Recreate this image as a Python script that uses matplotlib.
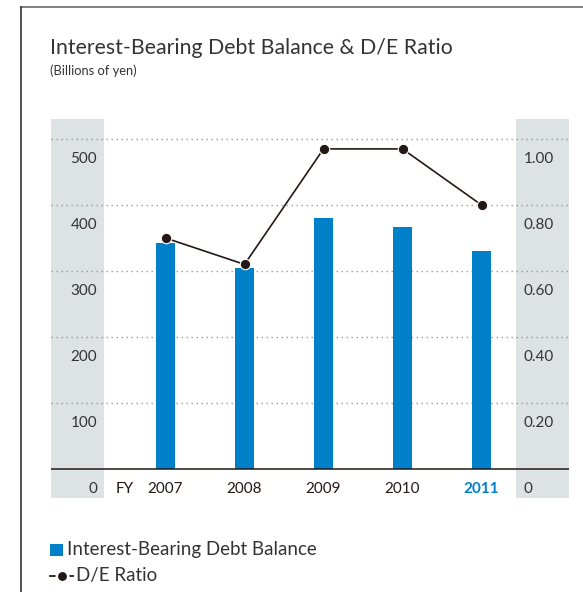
import matplotlib
matplotlib.use("Agg")
import matplotlib.pyplot as plt
from matplotlib.lines import Line2D
from matplotlib.patches import Rectangle

# fiscal years, debt balance (billions of yen) and D/E ratio
YEARS = ["2007", "2008", "2009", "2010", "2011"]
DEBT = [342, 304, 381, 367, 330]
DE_RATIO = [0.70, 0.62, 0.97, 0.97, 0.80]
LEFT_TICKS = [0, 100, 200, 300, 400, 500]
RIGHT_TICKS = ["0", "0.20", "0.40", "0.60", "0.80", "1.00"]

BLUE = "#0080c8"
BAND = "#dde2e4"
INK = "#333333"
LINE = "#231815"

W, H = 583, 592
plt.rcParams.update({"font.family": ["Lato", "DejaVu Sans"]})
fig = plt.figure(figsize=(W / 100, H / 100), dpi=100, facecolor="white")

# page frame: rule along the top and left edge
fig.add_artist(Line2D([21 / W, 1], [1 - 7 / H, 1 - 7 / H], color="#6d6a68", lw=1.2))
fig.add_artist(Line2D([21 / W, 21 / W], [0, 1 - 7 / H], color="#333333", lw=1.2))

fig.text(50 / W, 1 - 48 / H, "Interest-Bearing Debt Balance & D/E Ratio",
         fontsize=15.3, color=INK, va="center")
fig.text(50 / W, 1 - 71 / H, "(Billions of yen)", fontsize=9.3, color=INK, va="center")

# plot area in pixels: x 51..569, y 119..498
x0, x1, y0, y1 = 51, 569, 119, 498
ax = fig.add_axes([x0 / W, 1 - y1 / H, (x1 - x0) / W, (y1 - y0) / H])
ax.axis("off")

step = 79.0          # pixels between bar centres
c0 = 165.5           # centre of first bar
ppu = 66 / 100       # pixels per 1 unit of debt
base = 469           # y pixel of zero
ax.set_xlim((x0 - c0) / step, (x1 - c0) / step)
ax.set_ylim((base - y1) / ppu, (base - y0) / ppu)
xl = ax.get_xlim()

# grey label bands on both sides
band_w = 53 / step
ax.axvspan(xl[0], xl[0] + band_w, color=BAND, lw=0, zorder=0)
ax.axvspan(xl[1] - band_w, xl[1], color=BAND, lw=0, zorder=0)

# dotted gridlines and solid baseline
for v in LEFT_TICKS[1:]:
    ax.axhline(v, color="#9a9a9a", lw=1.0, ls=(0, (1, 2.6)), zorder=1)
ax.axhline(0, color="#231815", lw=1.1, zorder=4)

xs = list(range(len(YEARS)))
ax.bar(xs, DEBT, width=19 / step, color=BLUE, zorder=2)

# ratio on the same pixel scale: 1.00 sits on the 500 line
ax2 = ax.twinx()
ax2.axis("off")
ax2.set_xlim(xl)
ylim = ax.get_ylim()
ax2.set_ylim(ylim[0] / 500, ylim[1] / 500)
ax2.plot(xs, DE_RATIO, color=LINE, lw=1.2, marker="o", ms=7.5,
         mfc=LINE, mec="white", mew=0.8, zorder=5)

# tick labels sit just below their gridline
off = 20 / ppu
for v, r in zip(LEFT_TICKS, RIGHT_TICKS):
    ax.text((97 - c0) / step, v - off, str(v), ha="right", va="center",
            fontsize=11, color=INK)
    ax.text((524 - c0) / step, v - off, r, ha="left", va="center",
            fontsize=11, color=INK)

ax.text((125 - c0) / step, -off, "FY", ha="center", va="center", fontsize=11, color="#231815")
for i, y in enumerate(YEARS):
    last = i == len(YEARS) - 1
    ax.text(i, -off, y, ha="center", va="center", fontsize=11,
            color=BLUE if last else "#231815", fontweight="bold" if last else "normal")

# legend
fig.add_artist(Rectangle((50 / W, 1 - 556 / H), 12.5 / W, 12.5 / H, transform=fig.transFigure,
                         color=BLUE, lw=0))
fig.text(67 / W, 1 - 550 / H, "Interest-Bearing Debt Balance", fontsize=13.5,
         color=INK, va="center")
fig.add_artist(Line2D([50 / W, 73 / W], [1 - 576 / H, 1 - 576 / H], color=LINE, lw=1.3,
                      transform=fig.transFigure))
fig.add_artist(Line2D([61.5 / W], [1 - 576 / H], color=LINE, marker="o", ms=8.2, mec="white",
                      mew=1.8, transform=fig.transFigure))
fig.text(76 / W, 1 - 576 / H, "D/E Ratio", fontsize=13.5, color=INK, va="center")

fig.savefig("out.png", dpi=100, facecolor="white")
